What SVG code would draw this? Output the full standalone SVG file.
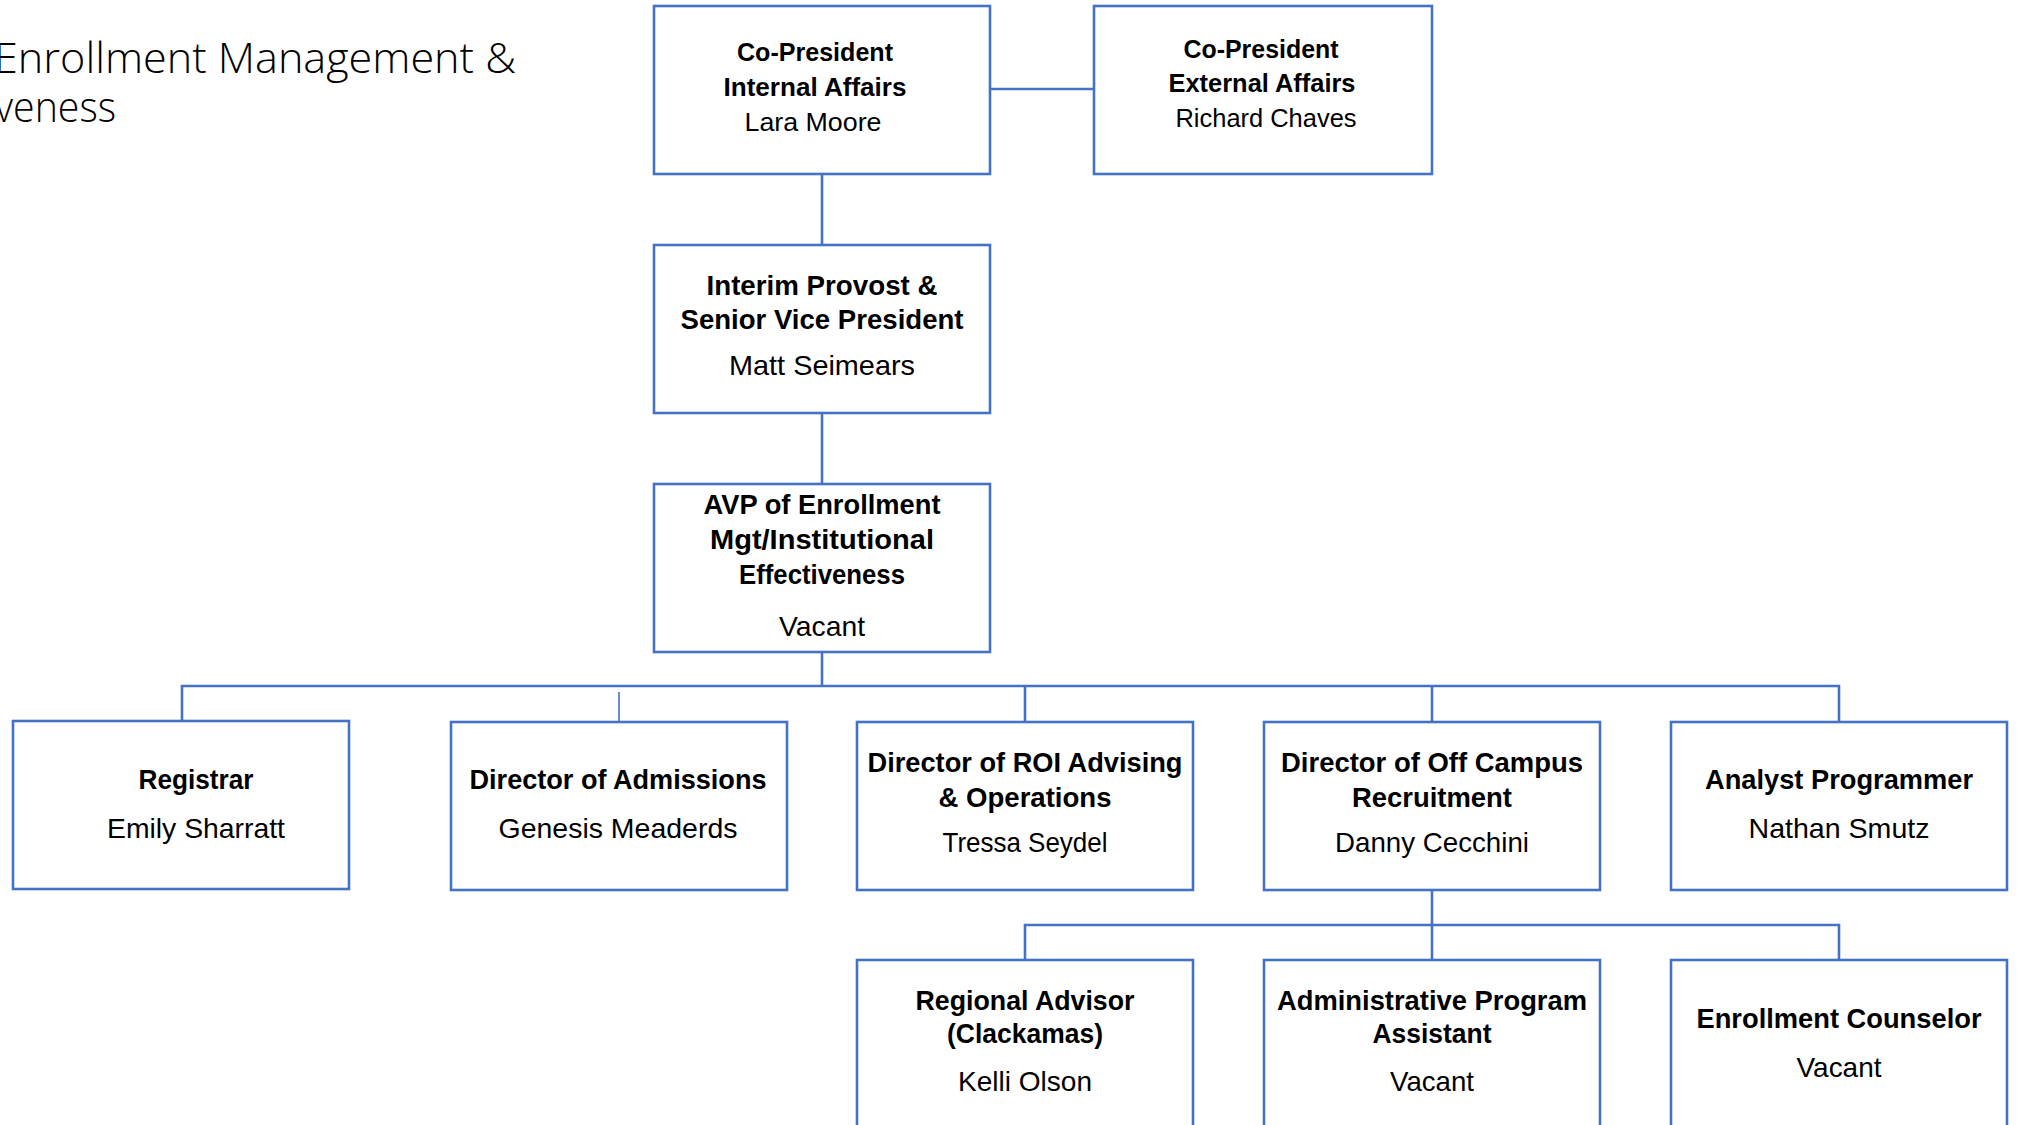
<svg xmlns="http://www.w3.org/2000/svg" width="2023" height="1125" viewBox="0 0 2023 1125">
<style>
.box{fill:#ffffff;stroke:#4472C4;stroke-width:2.6}
.con{fill:none;stroke:#4472C4;stroke-width:2.6}
.thin{fill:none;stroke:#4472C4;stroke-width:1.6}
text{font-family:"Liberation Sans",Arial,sans-serif;fill:#000;text-anchor:middle}
.b{font-weight:bold;font-size:28px}
.n{font-size:28px}
.b2{font-weight:bold;font-size:25px}
.n2{font-size:25px}
.title{font-family:"Open Sans","Liberation Sans",sans-serif;font-weight:300;font-size:42px;text-anchor:start}
</style>
<rect width="2023" height="1125" fill="#ffffff"/>
<g id="title">
<text class="title" x="-6" y="73" textLength="522" lengthAdjust="spacingAndGlyphs">Enrollment Management &amp;</text>
<text class="title" x="-5" y="122" textLength="121" lengthAdjust="spacingAndGlyphs">veness</text>
</g>
<g id="connectors">
<line class="con" x1="990" y1="89" x2="1094" y2="89"/>
<line class="con" x1="822" y1="174" x2="822" y2="245"/>
<line class="con" x1="822" y1="413" x2="822" y2="484"/>
<line class="con" x1="822" y1="652" x2="822" y2="686"/>
<polyline class="con" points="182,721 182,686 1839,686 1839,721"/>
<line class="thin" x1="619" y1="692" x2="619" y2="721"/>
<line class="con" x1="1025" y1="686" x2="1025" y2="721"/>
<line class="con" x1="1432" y1="686" x2="1432" y2="721"/>
<line class="con" x1="1432" y1="889" x2="1432" y2="960"/>
<polyline class="con" points="1025,960 1025,925 1839,925 1839,960"/>
</g>
<g id="copres-internal">
<rect class="box" x="654" y="6" width="336" height="168"/>
<text class="b2" x="815" y="61" textLength="156" lengthAdjust="spacingAndGlyphs">Co-President</text>
<text class="b2" x="815" y="96" textLength="183" lengthAdjust="spacingAndGlyphs">Internal Affairs</text>
<text class="n2" x="813" y="131" textLength="137" lengthAdjust="spacingAndGlyphs">Lara Moore</text>
</g>
<g id="copres-external">
<rect class="box" x="1094" y="6" width="338" height="168"/>
<text class="b2" x="1261" y="58" textLength="155" lengthAdjust="spacingAndGlyphs">Co-President</text>
<text class="b2" x="1262" y="92" textLength="187" lengthAdjust="spacingAndGlyphs">External Affairs</text>
<text class="n2" x="1266" y="127" textLength="181" lengthAdjust="spacingAndGlyphs">Richard Chaves</text>
</g>
<g id="provost">
<rect class="box" x="654" y="245" width="336" height="168"/>
<text class="b" x="822" y="295" textLength="231" lengthAdjust="spacingAndGlyphs">Interim Provost &amp;</text>
<text class="b" x="822" y="329" textLength="283" lengthAdjust="spacingAndGlyphs">Senior Vice  President</text>
<text class="n" x="822" y="375" textLength="186" lengthAdjust="spacingAndGlyphs">Matt Seimears</text>
</g>
<g id="avp">
<rect class="box" x="654" y="484" width="336" height="168"/>
<text class="b" x="822" y="514" textLength="237" lengthAdjust="spacingAndGlyphs">AVP of Enrollment</text>
<text class="b" x="822" y="549" textLength="224" lengthAdjust="spacingAndGlyphs">Mgt/Institutional</text>
<text class="b" x="822" y="584" textLength="166" lengthAdjust="spacingAndGlyphs">Effectiveness</text>
<text class="n" x="822" y="636" textLength="86" lengthAdjust="spacingAndGlyphs">Vacant</text>
</g>
<g id="registrar">
<rect class="box" x="13" y="721" width="336" height="168"/>
<text class="b" x="196" y="789" textLength="115" lengthAdjust="spacingAndGlyphs">Registrar</text>
<text class="n" x="196" y="838" textLength="178" lengthAdjust="spacingAndGlyphs">Emily Sharratt</text>
</g>
<g id="admissions">
<rect class="box" x="451" y="722" width="336" height="168"/>
<text class="b" x="618" y="789" textLength="297" lengthAdjust="spacingAndGlyphs">Director of Admissions</text>
<text class="n" x="618" y="838" textLength="239" lengthAdjust="spacingAndGlyphs">Genesis Meaderds</text>
</g>
<g id="roi">
<rect class="box" x="857" y="722" width="336" height="168"/>
<text class="b" x="1025" y="772" textLength="315" lengthAdjust="spacingAndGlyphs">Director of ROI Advising</text>
<text class="b" x="1025" y="807" textLength="173" lengthAdjust="spacingAndGlyphs">&amp; Operations</text>
<text class="n" x="1025" y="852" textLength="165" lengthAdjust="spacingAndGlyphs">Tressa Seydel</text>
</g>
<g id="offcampus">
<rect class="box" x="1264" y="722" width="336" height="168"/>
<text class="b" x="1432" y="772" textLength="302" lengthAdjust="spacingAndGlyphs">Director of Off Campus</text>
<text class="b" x="1432" y="807" textLength="160" lengthAdjust="spacingAndGlyphs">Recruitment</text>
<text class="n" x="1432" y="852" textLength="194" lengthAdjust="spacingAndGlyphs">Danny Cecchini</text>
</g>
<g id="analyst">
<rect class="box" x="1671" y="722" width="336" height="168"/>
<text class="b" x="1839" y="789" textLength="268" lengthAdjust="spacingAndGlyphs">Analyst Programmer</text>
<text class="n" x="1839" y="838" textLength="181" lengthAdjust="spacingAndGlyphs">Nathan Smutz</text>
</g>
<g id="regional">
<rect class="box" x="857" y="960" width="336" height="180"/>
<text class="b" x="1025" y="1010" textLength="219" lengthAdjust="spacingAndGlyphs">Regional Advisor</text>
<text class="b" x="1025" y="1043" textLength="156" lengthAdjust="spacingAndGlyphs">(Clackamas)</text>
<text class="n" x="1025" y="1091" textLength="134" lengthAdjust="spacingAndGlyphs">Kelli Olson</text>
</g>
<g id="admin-assistant">
<rect class="box" x="1264" y="960" width="336" height="180"/>
<text class="b" x="1432" y="1010" textLength="310" lengthAdjust="spacingAndGlyphs">Administrative Program</text>
<text class="b" x="1432" y="1043" textLength="119" lengthAdjust="spacingAndGlyphs">Assistant</text>
<text class="n" x="1432" y="1091" textLength="84" lengthAdjust="spacingAndGlyphs">Vacant</text>
</g>
<g id="enrollment-counselor">
<rect class="box" x="1671" y="960" width="336" height="180"/>
<text class="b" x="1839" y="1028" textLength="285" lengthAdjust="spacingAndGlyphs">Enrollment Counselor</text>
<text class="n" x="1839" y="1077" textLength="85" lengthAdjust="spacingAndGlyphs">Vacant</text>
</g>
</svg>
